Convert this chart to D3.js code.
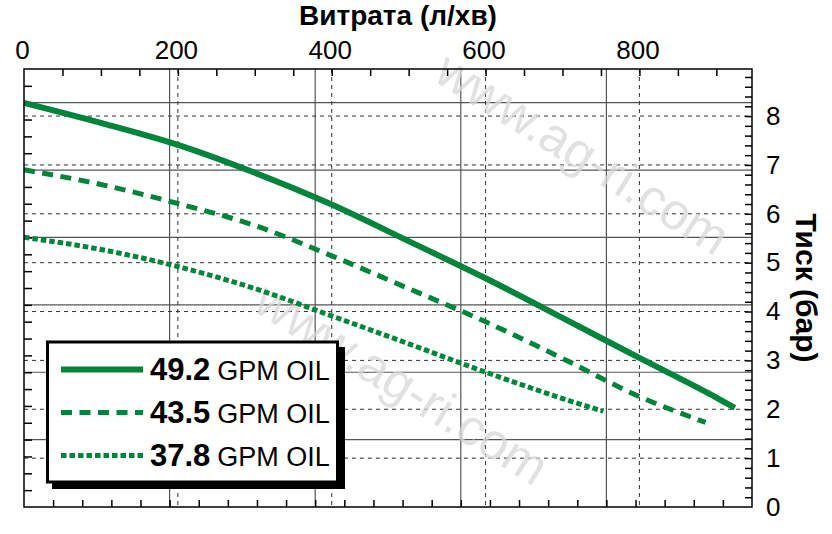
<!DOCTYPE html>
<html>
<head>
<meta charset="utf-8">
<script src="https://cdn.jsdelivr.net/npm/d3@7"></script>
<style>
  html, body { margin: 0; padding: 0; background: #fff; }
  svg { display: block; font-family: "Liberation Sans", Arial, Helvetica, sans-serif; }
</style>
</head>
<body>
<svg id="chart" width="832" height="534"></svg>
<script>
// ---- Data (flow in l/min, pressure in bar) ----
const flow49 = [0, 100, 200, 300, 400, 500, 600, 700, 800, 900, 924];
const bar49  = [8.27, 7.86, 7.41, 6.84, 6.19, 5.44, 4.68, 3.87, 3.05, 2.24, 2.03];
const flow43 = [0, 100, 200, 300, 400, 500, 600, 700, 800, 886];
const bar43  = [6.90, 6.60, 6.21, 5.76, 5.14, 4.47, 3.79, 3.04, 2.26, 1.73];
const flow37 = [0, 100, 200, 300, 400, 500, 600, 700, 753];
const bar37  = [5.52, 5.27, 4.92, 4.47, 3.91, 3.34, 2.76, 2.22, 1.96];
const seriesLabels = ["49.2", "43.5", "37.8"];
const seriesUnit = "GPM OIL";

const topTickLabels = [0, 200, 400, 600, 800];      // l/min
const rightTickLabels = [0, 1, 2, 3, 4, 5, 6, 7, 8]; // bar
const gpmGrid = [50, 100, 150, 200];                 // solid verticals (GPM)
const psiGrid = [20, 40, 60, 80, 100, 120];          // solid horizontals (PSI)
const xTitle = "Витрата (л/хв)";
const yTitle = "Тиск (бар)";
const watermark = "www.ag-ri.com";

// ---- Layout ----
const L = 24, R = 752, T = 69, B = 507;
const LPM_PER_GPM = 3.78541, PSI_PER_BAR = 14.5038;
const gpmMax = 250, psiMax = 130;

const xG = d3.scaleLinear().domain([0, gpmMax]).range([L, R]);
const xL = d3.scaleLinear().domain([0, gpmMax * LPM_PER_GPM]).range([L, R]);
const yP = d3.scaleLinear().domain([0, psiMax]).range([B, T]);
const yB = d3.scaleLinear().domain([0, psiMax / PSI_PER_BAR]).range([B, T]);

const green = "#03843c";
const svg = d3.select("#chart");

// ---- Grid ----
const grid = svg.append("g");
grid.selectAll(".gv").data(gpmGrid).join("line")
  .attr("x1", d => xG(d)).attr("x2", d => xG(d)).attr("y1", T).attr("y2", B)
  .attr("stroke", "#555").attr("stroke-width", 1.2);
grid.selectAll(".gh").data(psiGrid).join("line")
  .attr("y1", d => yP(d)).attr("y2", d => yP(d)).attr("x1", L).attr("x2", R)
  .attr("stroke", "#555").attr("stroke-width", 1.2);
grid.selectAll(".dv").data(topTickLabels.filter(d => d > 0)).join("line")
  .attr("x1", d => xL(d)).attr("x2", d => xL(d)).attr("y1", T).attr("y2", B)
  .attr("stroke", "#333").attr("stroke-width", 1).attr("stroke-dasharray", "4,4");
grid.selectAll(".dh").data(rightTickLabels.filter(d => d > 0)).join("line")
  .attr("y1", d => yB(d)).attr("y2", d => yB(d)).attr("x1", L).attr("x2", R)
  .attr("stroke", "#333").attr("stroke-width", 1).attr("stroke-dasharray", "4,4");

// ---- Watermark ----
[[583, 153], [402, 383]].forEach(([cx, cy]) => {
  svg.append("text").attr("transform", `translate(${cx},${cy}) rotate(32)`)
    .attr("text-anchor", "middle").attr("dy", "0.35em")
    .attr("font-size", 51).attr("fill", "#d8d8d8").attr("opacity", 0.75)
    .text(watermark);
});

// ---- Ticks (inward) ----
function styleAxis(g) {
  g.select(".domain").remove();
  g.selectAll(".tick line").attr("stroke", "#000").attr("stroke-width", 1.5);
  g.selectAll("text").remove();
}
svg.append("g").attr("transform", `translate(0,${T})`)
  .call(d3.axisTop(xL).tickValues(d3.range(50, 950, 50)).tickSize(-7)).call(styleAxis);
svg.append("g").attr("transform", `translate(0,${B})`)
  .call(d3.axisBottom(xG).tickValues(d3.range(10, 250, 10)).tickSize(-7)).call(styleAxis);
svg.append("g").attr("transform", `translate(${L},0)`)
  .call(d3.axisLeft(yP).tickValues(d3.range(5, 130, 5)).tickSize(-8)).call(styleAxis);
svg.append("g").attr("transform", `translate(${R},0)`)
  .call(d3.axisRight(yB).tickValues(d3.range(1, 45).map(i => i * 0.2)).tickSize(-7)).call(styleAxis);

// ---- Tick labels ----
const topAx = svg.append("g").attr("transform", `translate(0,${T})`)
  .call(d3.axisTop(xL).tickValues(topTickLabels).tickSize(0).tickPadding(10).tickFormat(d3.format("d")));
topAx.select(".domain").remove();
topAx.selectAll("text").attr("font-size", 26).attr("fill", "#000")
  .attr("font-family", "Liberation Sans, Arial, sans-serif").attr("dx", -2);

const rightAx = svg.append("g").attr("transform", `translate(${R},0)`)
  .call(d3.axisRight(yB).tickValues(rightTickLabels).tickSize(0).tickPadding(14).tickFormat(d3.format("d")));
rightAx.select(".domain").remove();
rightAx.selectAll("text").attr("font-size", 26).attr("fill", "#000")
  .attr("font-family", "Liberation Sans, Arial, sans-serif");

// ---- Titles ----
svg.append("text").attr("x", 398).attr("y", 25).attr("text-anchor", "middle")
  .attr("font-size", 28).attr("font-weight", "bold").attr("fill", "#000").text(xTitle);
svg.append("text").attr("transform", `translate(796,288) rotate(90)`).attr("text-anchor", "middle")
  .attr("font-size", 30).attr("font-weight", "bold").attr("fill", "#000").text(yTitle);

// ---- Curves ----
const line = d3.line().x(d => xL(d[0])).y(d => yB(d[1])).curve(d3.curveMonotoneX);
const styles = [
  { dash: null, width: 6 },
  { dash: "11,7.5", width: 5 },
  { dash: "5.5,3", width: 5 }
];
const series = [
  d3.zip(flow49, bar49),
  d3.zip(flow43, bar43),
  d3.zip(flow37, bar37)
];
series.forEach((s, i) => {
  svg.append("path").datum(s).attr("d", line)
    .attr("fill", "none").attr("stroke", green)
    .attr("stroke-width", styles[i].width)
    .attr("stroke-dasharray", styles[i].dash);
});

// ---- Frame ----
svg.append("rect").attr("x", L).attr("y", T).attr("width", R - L).attr("height", B - T)
  .attr("fill", "none").attr("stroke", "#000").attr("stroke-width", 1.5);

// ---- Legend ----
const lg = svg.append("g");
lg.append("rect").attr("x", 52).attr("y", 347).attr("width", 293).attr("height", 142).attr("fill", "#000");
lg.append("rect").attr("x", 47.5).attr("y", 342).attr("width", 290).attr("height", 140)
  .attr("fill", "#fff").attr("stroke", "#000").attr("stroke-width", 3);
const rowY = [369.5, 412.5, 455.5];
seriesLabels.forEach((lab, i) => {
  lg.append("line").attr("x1", 61).attr("x2", 143).attr("y1", rowY[i]).attr("y2", rowY[i])
    .attr("stroke", green).attr("stroke-width", styles[i].width)
    .attr("stroke-dasharray", styles[i].dash);
  const t = lg.append("text").attr("x", 150).attr("y", rowY[i] + 10).attr("fill", "#000");
  t.append("tspan").attr("font-size", 31).attr("font-weight", "bold").text(lab);
  t.append("tspan").attr("font-size", 27).attr("dx", 7).text(seriesUnit);
});
</script>
</body>
</html>
